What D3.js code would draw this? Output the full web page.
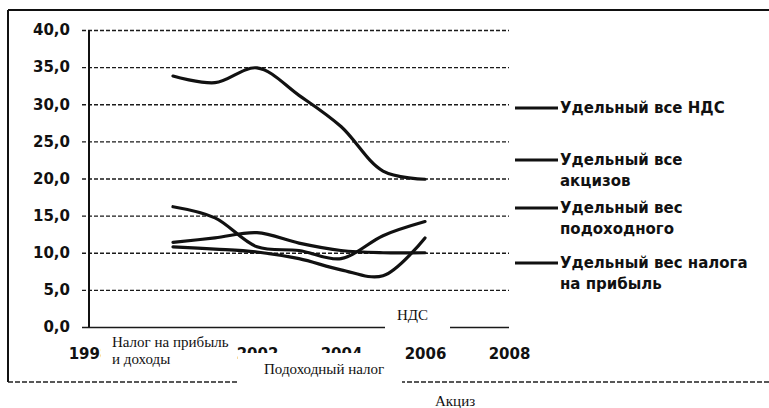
<!DOCTYPE html>
<html>
<head>
<meta charset="utf-8">
<script src="https://cdn.jsdelivr.net/npm/d3@7"></script>
<style>
    body { margin: 0; background: #fff; }
    .tick text { font-family: "DejaVu Sans", sans-serif; font-weight: bold; font-size: 15px; fill: #111; }
    .legendText { font-family: "DejaVu Sans", sans-serif; font-weight: bold; font-size: 15px; fill: #111; }
    .noteText { font-family: "Liberation Serif", serif; font-size: 15px; fill: #111; }
</style>
</head>
<body>
<div id="chart"></div>
<script>
// values (% of tax revenue)
var years = [2000, 2001, 2002, 2003, 2004, 2005, 2006];
var ndsShare = [33.8, 32.9, 34.9, 31.2, 27.0, 21.0, 19.9];
var exciseShare = [16.2, 14.7, 10.8, 10.3, 9.2, 12.3, 14.2];
var incomeShare = [11.4, 12.0, 12.7, 11.3, 10.3, 10.0, 10.0];
var profitShare = [10.8, 10.5, 10.1, 9.2, 7.7, 6.9, 12.0];

var yTicks = [0, 5, 10, 15, 20, 25, 30, 35, 40];
// 2000 label is hidden under the pasted note in the original
var xTicks = [1998, 2002, 2004, 2006, 2008];

var legendLabels = [
    ["Удельный все НДС"],
    ["Удельный все", "акцизов"],
    ["Удельный вес", "подоходного"],
    ["Удельный вес налога", "на прибыль"]
];

// text pasted over the chart in the original document
var notes = [
    { lines: ["Налог на прибыль", "и доходы"], box: [101, 333, 124, 39], x: 112, y: 347 },
    { lines: ["Подоходный налог"], box: [238, 353, 164, 40], x: 264, y: 374 },
    { lines: ["НДС"], box: [385, 302, 65, 29], x: 397, y: 320 },
    { lines: ["Акциз"], box: [428, 390, 56, 18], x: 435, y: 406 }
];

var svgWidth = 769;
var svgHeight = 408;

var margin = { top: 30, left: 89 };
var width = 420;
var height = 297;

var svg = d3.select("#chart")
    .append("svg")
    .attr("width", svgWidth)
    .attr("height", svgHeight);

// outer frame of the chart
svg.append("line")
    .attr("x1", 8).attr("y1", 10).attr("x2", svgWidth).attr("y2", 10)
    .attr("stroke", "#111").attr("stroke-width", 2);
svg.append("line")
    .attr("x1", 8).attr("y1", 10).attr("x2", 8).attr("y2", 382)
    .attr("stroke", "#111").attr("stroke-width", 2);
svg.append("line")
    .attr("x1", 8).attr("y1", 382).attr("x2", svgWidth).attr("y2", 382)
    .attr("stroke", "#222").attr("stroke-width", 1.3)
    .attr("stroke-dasharray", "5,2");

var chartGroup = svg.append("g")
    .attr("transform", `translate(${margin.left}, ${margin.top})`);

var xScale = d3.scaleLinear()
    .domain([1998, 2008])
    .range([0, width]);

var yScale = d3.scaleLinear()
    .domain([0, 40])
    .range([height, 0]);

// y axis with gridlines
var yAxis = d3.axisLeft(yScale)
    .tickValues(yTicks)
    .tickSize(-width)
    .tickFormat(d => d3.format(".1f")(d).replace(".", ","));

var yAxisGroup = chartGroup.append("g").call(yAxis);
yAxisGroup.select(".domain").remove();
yAxisGroup.selectAll(".tick line")
    .attr("x1", -7)
    .attr("stroke", "#1a1a1a")
    .attr("stroke-width", 1.3)
    .attr("stroke-dasharray", d => d === 0 ? null : "4,2");
yAxisGroup.selectAll(".tick text")
    .attr("x", -19);

chartGroup.append("line")
    .attr("x1", 0).attr("y1", 0).attr("x2", 0).attr("y2", height)
    .attr("stroke", "#111").attr("stroke-width", 2);

// x axis labels only
var xAxis = d3.axisBottom(xScale)
    .tickValues(xTicks)
    .tickSize(0)
    .tickPadding(21)
    .tickFormat(d3.format("d"));

var xAxisGroup = chartGroup.append("g")
    .attr("transform", `translate(0, ${height})`)
    .call(xAxis);
xAxisGroup.select(".domain").remove();

// series lines
var line = d3.line()
    .x((d, i) => xScale(years[i]))
    .y(d => yScale(d))
    .curve(d3.curveCatmullRom.alpha(0.5));

[ndsShare, exciseShare, incomeShare, profitShare].forEach(function (series) {
    chartGroup.append("path")
        .attr("d", line(series))
        .attr("fill", "none")
        .attr("stroke", "#111")
        .attr("stroke-width", 3.2)
        .attr("stroke-linecap", "round");
});

// legend
var legendY = [108, 160, 208, 263];
legendLabels.forEach(function (label, i) {
    svg.append("line")
        .attr("x1", 515).attr("x2", 558)
        .attr("y1", legendY[i]).attr("y2", legendY[i])
        .attr("stroke", "#111").attr("stroke-width", 3);
    label.forEach(function (txt, j) {
        svg.append("text")
            .attr("class", "legendText")
            .attr("x", 560)
            .attr("y", legendY[i] + 5 + j * 21)
            .text(txt);
    });
});

// white paste-over boxes with notes
notes.forEach(function (n) {
    svg.append("rect")
        .attr("x", n.box[0]).attr("y", n.box[1])
        .attr("width", n.box[2]).attr("height", n.box[3])
        .attr("fill", "#fff");
    n.lines.forEach(function (txt, j) {
        svg.append("text")
            .attr("class", "noteText")
            .attr("x", n.x)
            .attr("y", n.y + j * 17)
            .text(txt);
    });
});
</script>
</body>
</html>
